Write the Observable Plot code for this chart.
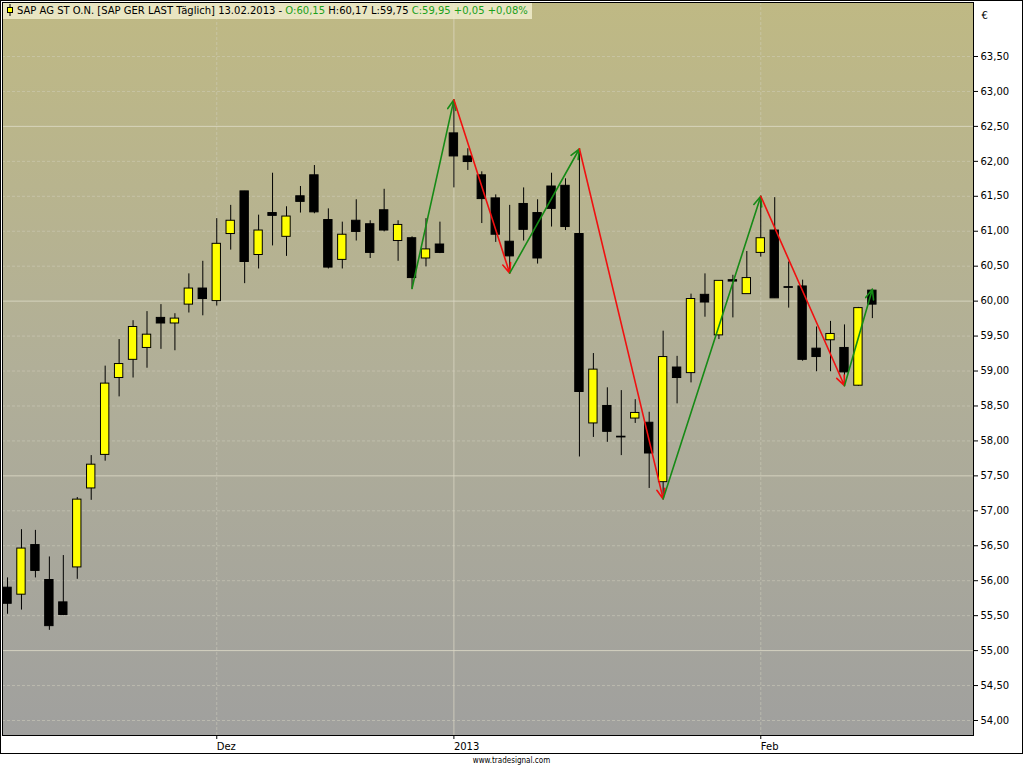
<!DOCTYPE html>
<html>
<head>
<meta charset="utf-8">
<script src="https://cdn.jsdelivr.net/npm/d3@7"></script>
<script src="https://cdn.jsdelivr.net/npm/@observablehq/plot@0.6"></script>
<style>
  html, body { margin: 0; padding: 0; background: #fff; }
  #wrap { position: relative; width: 1021px; height: 752px; border: 1px solid #000; }
  #head { position: absolute; left: 2px; top: 2px; height: 16px; padding: 0 4px 0 3px;
          background: rgba(240,236,205,0.85); font: 10px "DejaVu Sans", sans-serif;
          line-height: 16px; color: #000; white-space: nowrap; }
  #head .g { color: #1aa01a; }
  #head svg { vertical-align: -2px; margin-right: 3px; }
  #foot { width: 1023px; text-align: center; font: 8px "DejaVu Sans Condensed", "DejaVu Sans", sans-serif; color: #000; line-height: 14px; }
</style>
</head>
<body>
<div id="wrap"><div id="chart"></div>
  <div id="head"><svg width="8" height="12"><line x1="4" x2="4" y1="0" y2="12" stroke="#000"/><rect x="1.5" y="3.5" width="5" height="5" fill="#ffff00" stroke="#000"/></svg>SAP AG ST O.N. [SAP GER LAST Täglich] 13.02.2013 - <span class="g">O:60,15</span> H:60,17 L:59,75 <span class="g">C:59,95 +0,05 +0,08%</span></div>
</div>
<div id="foot">www.tradesignal.com</div>
<script>
// ---- data (Nov 12 2012 .. Feb 13 2013, daily) ----
const opens  = [55.90,55.80,56.51,56.01,55.69,56.19,57.32,57.80,58.90,59.16,59.33,59.76,59.68,59.95,60.18,60.00,60.96,61.57,60.66,61.26,60.92,61.50,61.80,61.16,60.59,61.15,61.10,61.30,60.86,60.90,60.61,60.81,62.40,62.07,61.80,61.47,60.85,61.39,61.26,61.64,61.65,60.96,58.25,58.50,58.06,58.32,58.26,57.41,59.05,58.97,60.09,59.51,60.30,60.10,60.69,61.01,60.20,60.21,59.32,59.44,59.33,58.79,60.15];
const highs  = [56.04,56.73,56.72,56.34,56.36,57.19,57.79,59.07,59.45,59.72,59.85,59.95,59.82,60.39,60.57,61.18,61.37,61.57,61.23,61.83,61.35,61.64,61.94,61.32,61.13,61.45,61.15,61.60,61.15,60.92,61.18,61.13,62.88,62.18,61.85,61.52,61.37,61.62,61.45,61.83,61.75,62.18,59.25,58.76,58.72,58.59,58.41,59.57,59.21,60.10,60.39,60.29,60.37,60.71,61.50,61.48,60.56,60.30,59.63,59.71,59.66,59.91,60.17];
const lows   = [55.52,55.58,56.04,55.29,55.50,56.02,57.15,57.71,58.63,58.90,59.04,59.31,59.29,59.83,59.79,59.93,60.73,60.25,60.46,60.79,60.64,61.26,61.25,60.46,60.46,60.86,60.61,60.99,60.57,60.17,60.49,60.68,61.62,61.87,61.11,60.84,60.40,60.86,60.53,61.06,61.01,57.77,58.05,57.98,57.79,58.25,57.32,57.17,58.53,58.83,59.77,59.45,59.76,60.10,60.63,60.04,59.90,59.14,58.99,58.99,58.79,58.78,59.75];
const closes = [55.67,56.46,56.14,55.35,55.51,57.16,57.66,58.82,59.10,59.63,59.52,59.68,59.75,60.18,60.03,60.82,61.15,60.56,61.01,61.22,61.21,61.42,61.27,60.48,60.95,60.99,60.69,61.01,61.09,60.33,60.74,60.69,62.07,61.99,61.46,60.95,60.64,61.02,60.61,61.32,61.06,58.70,59.02,58.13,58.05,58.40,57.82,59.20,58.90,60.03,59.98,60.29,60.28,60.33,60.90,60.04,60.19,59.16,59.20,59.53,58.98,59.90,59.95];

// ZigZag pivots (bar index, price)
const pivotIdx = [29, 32, 36, 41, 47, 54, 60, 62];
const pivotVal = [60.18, 62.88, 60.40, 62.18, 57.17, 61.50, 58.79, 60.17];

// axis ticks
const monthIdx    = [15, 32, 54];
const monthLabels = ["Dez", "2013", "Feb"];
const priceTicks  = d3.range(54, 63.51, 0.5);
const majorLines  = [55, 57.5, 60, 62.5];

// ---- build tables ----
const bars = opens.map((o, i) => ({i, open: o, high: highs[i], low: lows[i], close: closes[i]}));
const segs = pivotIdx.slice(1).map((p, k) => ({
  x1: pivotIdx[k], y1: pivotVal[k], x2: p, y2: pivotVal[k + 1], up: pivotVal[k + 1] > pivotVal[k]
}));
const minorLines = priceTicks.filter(v => !majorLines.includes(v));
const labelOf = new Map(monthIdx.map((m, k) => [m, monthLabels[k]]));

const chart = Plot.plot({
  width: 1021, height: 752,
  marginLeft: 1, marginRight: 49, marginTop: 1, marginBottom: 18,
  x: {type: "linear", domain: [-0.36, 69.25], axis: null},
  y: {domain: [53.7854, 64.2725], axis: null},
  color: {type: "identity"},
  style: {fontFamily: "DejaVu Sans, sans-serif", fontSize: "10px", background: "transparent", overflow: "visible"},
  marks: [
    Plot.frame({fill: "url(#bggrad)"}),
    Plot.ruleY(minorLines, {stroke: "#d4d2c0", strokeOpacity: 0.5, strokeDasharray: "3,2"}),
    Plot.ruleY(majorLines, {stroke: "#dedcc8", strokeOpacity: 0.8, strokeWidth: 1}),
    Plot.ruleX([monthIdx[0], monthIdx[2]], {stroke: "#d4d2c0", strokeOpacity: 0.5, strokeDasharray: "3,2"}),
    Plot.ruleX([monthIdx[1]], {stroke: "#dedcc8", strokeOpacity: 0.7, strokeWidth: 1}),
    Plot.ruleX(bars, {x: "i", y1: "low", y2: "high", stroke: "#000", strokeWidth: 1}),
    Plot.rect(bars, {
      x1: d => d.i - 0.3, x2: d => d.i + 0.3, y1: "open", y2: "close",
      fill: d => d.close >= d.open ? "#ffff00" : "#000000", stroke: "#000", strokeWidth: 1
    }),
    Plot.arrow(segs, {
      x1: "x1", y1: "y1", x2: "x2", y2: "y2",
      stroke: d => d.up ? "#168a16" : "#f01010", strokeWidth: 1.6, headLength: 10, headAngle: 45
    }),
    Plot.frame({stroke: "#000", strokeWidth: 1}),
    Plot.axisY(priceTicks, {
      anchor: "right", tickSize: 4, tickPadding: 3, stroke: "#000",
      tickFormat: d => d.toFixed(2).replace(".", ","), fill: "#000", fontSize: 10
    }),
    Plot.axisX(monthIdx, {
      anchor: "bottom", tickSize: 4, tickPadding: 3, stroke: "#000",
      tickFormat: d => labelOf.get(d), textAnchor: "start", fill: "#000", fontSize: 10
    }),
    Plot.text(["€"], {frameAnchor: "top-right", dx: 8, dy: 9, fill: "#000", fontSize: 10, textAnchor: "start"})
  ]
});

// gradient definition for the plot background
const svg = d3.select(chart);
const defs = svg.insert("defs", ":first-child");
const g = defs.append("linearGradient").attr("id", "bggrad").attr("x1", 0).attr("y1", 0).attr("x2", 0).attr("y2", 1);
g.append("stop").attr("offset", "0%").attr("stop-color", "#bfb984");
g.append("stop").attr("offset", "50%").attr("stop-color", "#b1af98");
g.append("stop").attr("offset", "100%").attr("stop-color", "#a0a09e");

document.getElementById("chart").appendChild(chart);
</script>
</body>
</html>
